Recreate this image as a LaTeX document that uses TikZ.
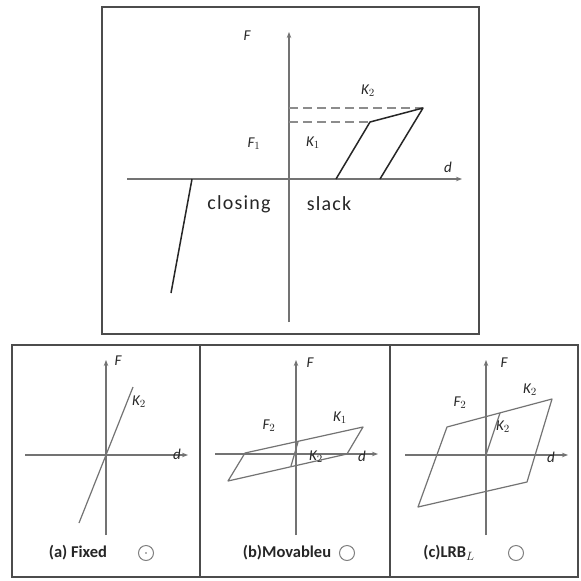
\documentclass[tikz,border=0pt]{standalone}
\usepackage{fontspec}
\setmainfont{Carlito}
\usetikzlibrary{arrows.meta}
\begin{document}
\begin{tikzpicture}[x=1pt,y=-1pt,
  frame/.style={draw=black!70,line width=1.3pt},
  axis/.style={draw=black!55,line width=1.2pt,-{Stealth[length=6pt,width=4.5pt]}},
  curve/.style={draw=black!85,line width=1.5pt,line join=round},
  thin curve/.style={draw=black!55,line width=1.2pt,line join=round},
  guide/.style={draw=black!45,line width=1.3pt,dash pattern=on 9pt off 5pt},
  lbl/.style={inner sep=0pt,font=\fontsize{15}{16}\selectfont\itshape,text=black!85},
  big/.style={inner sep=0pt,font=\fontsize{20}{22}\selectfont\addfontfeatures{LetterSpace=6},text=black!85},
  captxt/.style={inner sep=0pt,font=\fontsize{16.5}{18}\selectfont\bfseries,text=black!85},
  ring/.style={draw=black!50,line width=1pt,circle,minimum size=15pt,inner sep=0pt}]
\useasboundingbox (0,0) rectangle (581,581);
\fill[white] (0,0) rectangle (581,581);
% ---------- top panel ----------
\draw[frame] (102,7) rectangle (479,334);
\coordinate (tyb) at (289,322); \coordinate (tyt) at (289,32);
\coordinate (txl) at (127,179); \coordinate (txr) at (462,179);
\draw[axis] (tyb) -- (tyt);
\draw[axis] (txl) -- (txr);
\coordinate (c1) at (192,179); \coordinate (c2) at (171,293);
\draw[curve] (c1) -- (c2);
\coordinate (p1) at (336,179); \coordinate (p2) at (370,122);
\coordinate (p3) at (423,108); \coordinate (p4) at (380,179);
\coordinate (g1) at (289,108); \coordinate (g2) at (289,122);
\draw[guide] (g1) -- (p3);
\draw[guide] (g2) -- (p2);
\draw[curve] (p1) -- (p2) -- (p3) -- (p4);
\node[lbl] (tF) at (247,36) {F};
\node[lbl] (tK2) at (368,91) {K$_2$};
\node[lbl] (tFy) at (254,144) {F$_1$};
\node[lbl] (tK1) at (313,143) {K$_1$};
\node[lbl] (td) at (448,167) {d};
\node[big] (tclosing) at (239,204) {closing};
\node[big] (tslack) at (329,204) {slack};
% ---------- bottom panels ----------
\draw[frame] (12,345) rectangle (578,577);
\coordinate (s1t) at (200,345); \coordinate (s1b) at (200,577);
\coordinate (s2t) at (390,345); \coordinate (s2b) at (390,577);
\draw[frame] (s1t) -- (s1b);
\draw[frame] (s2t) -- (s2b);
% (a)
\coordinate (ayb) at (106,535); \coordinate (ayt) at (106,360);
\coordinate (axl) at (25,455); \coordinate (axr) at (188,455);
\draw[axis] (ayb) -- (ayt);
\draw[axis] (axl) -- (axr);
\coordinate (a1) at (79,523); \coordinate (a2) at (133,387);
\draw[thin curve] (a1) -- (a2);
\node[lbl] (aF) at (118,361) {F};
\node[lbl] (aK) at (139,402) {K$_2$};
\node[lbl] (ad) at (177,454) {d};
\node[captxt] (acap) at (78,553) {(a) Fixed};
\node[ring] (aring) at (146,553) {};
\fill[black!60] (aring.center) circle (0.9pt);
% (b)
\coordinate (byb) at (296,535); \coordinate (byt) at (296,360);
\coordinate (bxl) at (215,454); \coordinate (bxr) at (378,454);
\draw[axis] (byb) -- (byt);
\draw[axis] (bxl) -- (bxr);
\coordinate (b1) at (228,481); \coordinate (b2) at (245,453);
\coordinate (b3) at (363,427); \coordinate (b4) at (347,454);
\draw[thin curve] (b1) -- (b2) -- (b3) -- (b4) -- cycle;
\coordinate (b5) at (291,466); \coordinate (b6) at (298,442);
\draw[thin curve] (b5) -- (b6);
\node[lbl] (bF) at (310,363) {F};
\node[lbl] (bF2) at (269,426) {F$_2$};
\node[lbl] (bK1) at (340,418) {K$_1$};
\node[lbl] (bK2) at (316,457) {K$_2$};
\node[lbl] (bd) at (362,456) {d};
\node[captxt] (bcap) at (287,553) {(b)Movableu};
\node[ring] (bring) at (347,553) {};
% (c)
\coordinate (cyb) at (486,535); \coordinate (cyt) at (486,360);
\coordinate (cxl) at (405,455); \coordinate (cxr) at (568,455);
\draw[axis] (cyb) -- (cyt);
\draw[axis] (cxl) -- (cxr);
\coordinate (q1) at (418,507); \coordinate (q2) at (447,427);
\coordinate (q3) at (552,399); \coordinate (q4) at (527,482);
\draw[thin curve] (q1) -- (q2) -- (q3) -- (q4) -- cycle;
\coordinate (q5) at (486,455); \coordinate (q6) at (500,413);
\draw[thin curve] (q5) -- (q6);
\node[lbl] (cF) at (504,363) {F};
\node[lbl] (cF2) at (460,403) {F$_2$};
\node[lbl] (cK1) at (530,390) {K$_2$};
\node[lbl] (cK2) at (503,427) {K$_2$};
\node[lbl] (cd) at (551,457) {d};
\node[captxt] (ccap) at (449,553) {(c)LRB$_L$};
\node[ring] (cring) at (516,553) {};
\end{tikzpicture}
\end{document}
